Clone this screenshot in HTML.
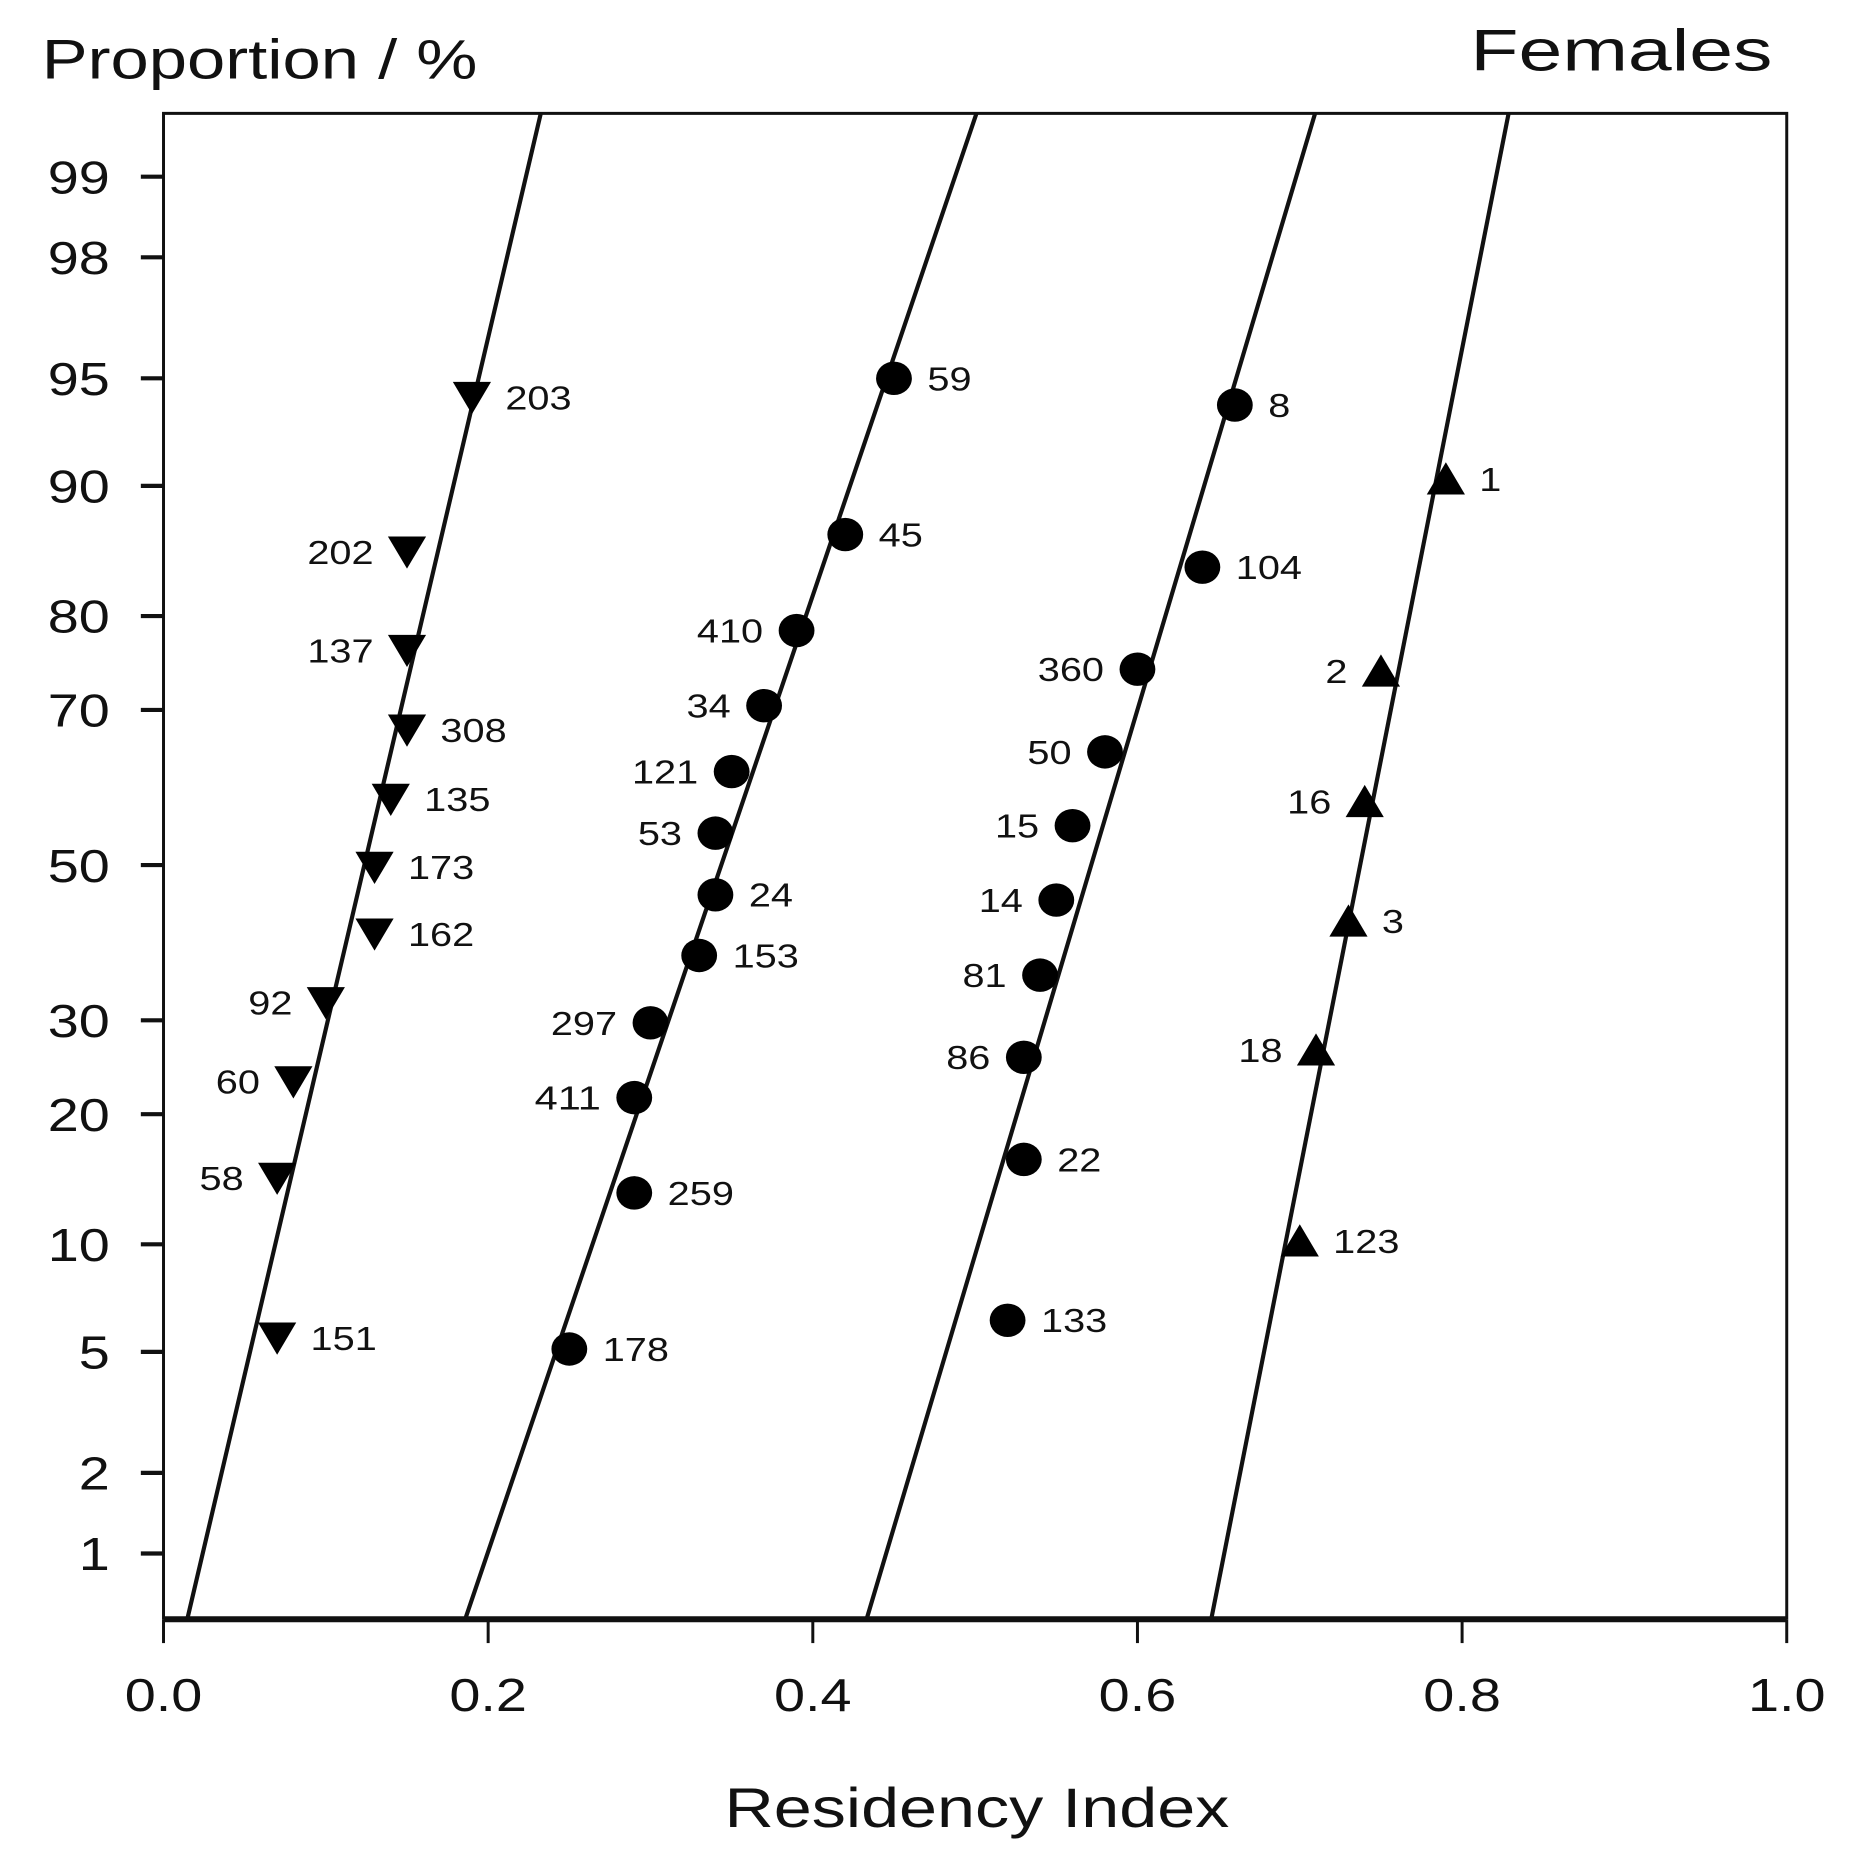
<!DOCTYPE html>
<html><head><meta charset="utf-8"><style>
html,body{margin:0;padding:0;background:#fff}
svg{display:block}
text{font-family:"Liberation Sans",sans-serif;fill:#111}
</style></head><body>
<svg id="chart" width="1850" height="1871" viewBox="0 0 1550 1568" preserveAspectRatio="none">
<g id="frame"></g><g id="lines"></g><g id="marks"></g>
</svg>
<script>
// Data
const yTicks = [1,2,5,10,20,30,50,70,80,90,95,98,99];
const xTicks = [0.0,0.2,0.4,0.6,0.8,1.0];
// group 1 (down triangles)
const g1Labels = ["203","202","137","308","135","173","162","92","60","58","151"];
const g1X = [0.19,0.15,0.15,0.15,0.14,0.13,0.13,0.10,0.08,0.07,0.07];
const g1P = [94.3,85.5,76.6,67.6,58.8,49.7,40.8,32.1,23.2,14.5,5.5];
const g1Side = ["r","l","l","r","r","r","r","l","l","l","r"];
// group 2 (circles)
const g2Labels = ["59","45","410","34","121","53","24","153","297","411","259","178"];
const g2X = [0.45,0.42,0.39,0.37,0.35,0.34,0.34,0.33,0.30,0.29,0.29,0.25];
const g2P = [95.0,86.8,78.6,70.5,62.4,54.3,46.0,38.0,29.7,21.6,13.4,5.1];
const g2Side = ["r","r","l","l","l","l","r","r","l","l","r","r"];
// group 3 (circles)
const g3Labels = ["8","104","360","50","15","14","81","86","22","133"];
const g3X = [0.66,0.64,0.60,0.58,0.56,0.55,0.54,0.53,0.53,0.52];
const g3P = [94.0,84.3,74.6,64.9,55.3,45.3,35.5,25.8,16.0,6.2];
const g3Side = ["r","r","l","l","l","l","l","l","r","r"];
// group 4 (up triangles)
const g4Labels = ["1","2","16","3","18","123"];
const g4X = [0.79,0.75,0.74,0.73,0.71,0.70];
const g4P = [90.4,74.4,58.5,42.5,26.6,10.2];
const g4Side = ["r","l","l","r","l","r"];
// fitted lines: x at median, x change per SD
const lineMean = [0.1237,0.3436,0.5715,0.7372];
const lineSlope = [0.0428,0.0619,0.0543,0.0360];

const NS="http://www.w3.org/2000/svg";
const L=137,R=1497,T=95,B=1357,Y50=725,PZ=248;
function xs(v){return L+v*(R-L);}
function invNorm(p){ // inverse normal (Acklam)
 const a=[-39.6968302866538,220.946098424521,-275.928510446969,138.357751867269,-30.6647980661472,2.50662827745924];
 const b=[-54.4760987982241,161.585836858041,-155.698979859887,66.8013118877197,-13.2806815528857];
 const c=[-0.00778489400243029,-0.322396458041136,-2.40075827716184,-2.54973253934373,4.37466414146497,2.93816398269878];
 const d=[0.00778469570904146,0.32246712907004,2.445134137143,3.75440866190742];
 let q,r;
 if(p<0.02425){q=Math.sqrt(-2*Math.log(p));return (((((c[0]*q+c[1])*q+c[2])*q+c[3])*q+c[4])*q+c[5])/((((d[0]*q+d[1])*q+d[2])*q+d[3])*q+1);}
 if(p>1-0.02425){q=Math.sqrt(-2*Math.log(1-p));return -(((((c[0]*q+c[1])*q+c[2])*q+c[3])*q+c[4])*q+c[5])/((((d[0]*q+d[1])*q+d[2])*q+d[3])*q+1);}
 q=p-0.5;r=q*q;return (((((a[0]*r+a[1])*r+a[2])*r+a[3])*r+a[4])*r+a[5])*q/(((((b[0]*r+b[1])*r+b[2])*r+b[3])*r+b[4])*r+1);
}
function ys(pct){return Y50-PZ*invNorm(pct/100);}
function mk(tag,attrs,parent){const e=document.createElementNS(NS,tag);for(const k in attrs)e.setAttribute(k,attrs[k]);parent.appendChild(e);return e;}

const frame=document.getElementById('frame');
let el;
el=mk('path',{d:`M${L},${B}V${T}H${R}V${B}`,fill:'none',stroke:'#111','stroke-width':2.5},frame);


el=mk('line',{x1:L,y1:B,x2:R,y2:B,stroke:'#111','stroke-width':5},frame);


yTicks.forEach(t=>{
 const y=ys(t);
 const tk=mk('line',{x1:L-19,y1:y,x2:L,y2:y,stroke:'#111','stroke-width':3.5},frame);
 
 
 const s=String(t);
 const tx=mk('text',{x:L-45,y:y+14,'text-anchor':'end','font-size':39,textLength:26*s.length,lengthAdjust:'spacingAndGlyphs'},frame);
 tx.textContent=s;
 
 
});
xTicks.forEach(t=>{
 const x=xs(t);
 const tk=mk('line',{x1:x,y1:B,x2:x,y2:B+20,stroke:'#111','stroke-width':2.5},frame);
 
 
 const tx=mk('text',{x:x,y:B+77,'text-anchor':'middle','font-size':39,textLength:65,lengthAdjust:'spacingAndGlyphs'},frame);
 tx.textContent=t.toFixed(1);
 
 
});
el=mk('text',{x:35,y:66,'font-size':47,textLength:365,lengthAdjust:'spacingAndGlyphs'},frame);el.textContent='Proportion / %';


el=mk('text',{x:1232,y:59,'font-size':49,textLength:253,lengthAdjust:'spacingAndGlyphs'},frame);el.textContent='Females';


el=mk('text',{x:607,y:1531,'font-size':47,textLength:423,lengthAdjust:'spacingAndGlyphs'},frame);el.textContent='Residency Index';



const lines=document.getElementById('lines');
const zT=(Y50-T)/PZ, zB=(Y50-B)/PZ;
lineMean.forEach((m,i)=>{
 const ln=mk('line',{x1:xs(m+lineSlope[i]*zT),y1:T,x2:xs(m+lineSlope[i]*zB),y2:B,stroke:'#111','stroke-width':3.5},lines);
 
 
});

const marks=document.getElementById('marks');
function drawGroup(labels,xv,pv,side,shape){
 labels.forEach((lb,i)=>{
  const cx=xs(xv[i]),cy=ys(pv[i]);
  let m;
  if(shape==='down') m=mk('polygon',{points:`${cx-16},${cy-13} ${cx+16},${cy-13} ${cx},${cy+14}`,fill:'#000'},marks);
  else if(shape==='up') m=mk('polygon',{points:`${cx-16},${cy+13} ${cx+16},${cy+13} ${cx},${cy-14}`,fill:'#000'},marks);
  else m=mk('ellipse',{cx:cx,cy:cy,rx:15,ry:14,fill:'#000'},marks);
  
  
  const r=side[i]==='r';
  const t=mk('text',{x:r?cx+28:cx-28,y:cy+10,'text-anchor':r?'start':'end','font-size':28,textLength:18.5*lb.length,lengthAdjust:'spacingAndGlyphs'},marks);
  t.textContent=lb;
  
  
 });
}
drawGroup(g1Labels,g1X,g1P,g1Side,'down');
drawGroup(g2Labels,g2X,g2P,g2Side,'circle');
drawGroup(g3Labels,g3X,g3P,g3Side,'circle');
drawGroup(g4Labels,g4X,g4P,g4Side,'up');
</script>
</body></html>
